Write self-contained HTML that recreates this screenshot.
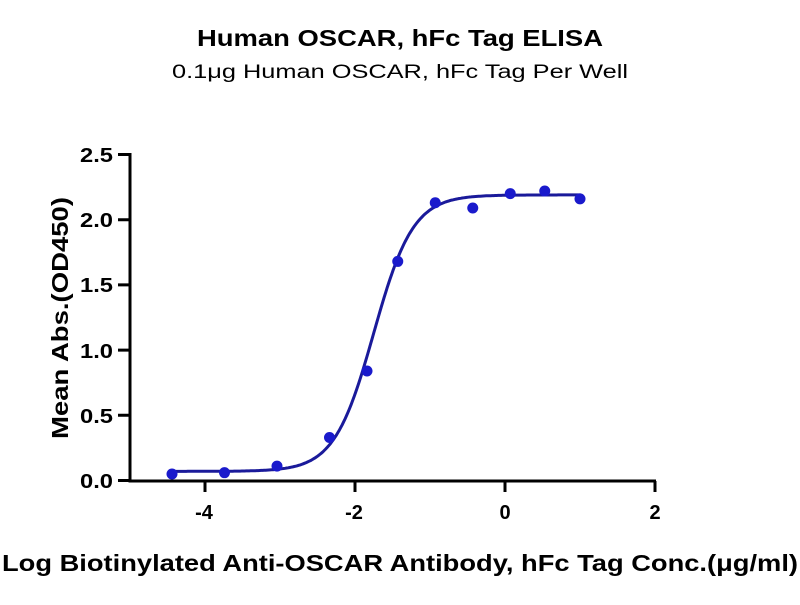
<!DOCTYPE html>
<html><head><meta charset="utf-8"><style>
body{margin:0;background:#fff}
svg text{font-family:"Liberation Sans",Arial,sans-serif}
</style></head><body>
<svg id="s" width="800" height="600" xmlns="http://www.w3.org/2000/svg">
<text x="400" y="46" text-anchor="middle" font-size="23" font-weight="bold" textLength="406" lengthAdjust="spacingAndGlyphs">Human OSCAR, hFc Tag ELISA</text>
<text x="400" y="78" text-anchor="middle" font-size="19" textLength="456" lengthAdjust="spacingAndGlyphs">0.1μg Human OSCAR, hFc Tag Per Well</text>
<g stroke="#000" stroke-width="3" fill="none">
<path d="M130 153V481H656"/>
<path d="M118 154.5H130M118 219.7H130M118 284.9H130M118 350.1H130M118 415.3H130M118 480.5H130"/>
<path d="M205 481V492M355 481V492M505 481V492M655 481V492"/>
</g>
<g font-size="20" font-weight="bold" text-anchor="end">
<text x="113" y="162" textLength="33" lengthAdjust="spacingAndGlyphs">2.5</text><text x="113" y="227" textLength="33" lengthAdjust="spacingAndGlyphs">2.0</text><text x="113" y="292" textLength="33" lengthAdjust="spacingAndGlyphs">1.5</text>
<text x="113" y="358" textLength="33" lengthAdjust="spacingAndGlyphs">1.0</text><text x="113" y="423" textLength="33" lengthAdjust="spacingAndGlyphs">0.5</text><text x="113" y="488" textLength="33" lengthAdjust="spacingAndGlyphs">0.0</text>
</g>
<g font-size="20" font-weight="bold" text-anchor="middle">
<text x="204" y="519">-4</text><text x="354" y="519">-2</text><text x="505" y="519">0</text><text x="655" y="519">2</text>
</g>
<text transform="translate(68,318) rotate(-90)" text-anchor="middle" font-size="23" font-weight="bold" textLength="242" lengthAdjust="spacingAndGlyphs">Mean Abs.(OD450)</text>
<text x="400" y="571" text-anchor="middle" font-size="23" font-weight="bold" textLength="796" lengthAdjust="spacingAndGlyphs">Log Biotinylated Anti-OSCAR Antibody, hFc Tag Conc.(μg/ml)</text>
<path id="c" fill="none" stroke="#1a1a9a" stroke-width="3"/>
<g id="p" fill="#1a1acc"></g>
</svg>
<script>
var X=function(v){return 505+75*v},Y=function(v){return 480.5-130.4*v};
var d="";for(var v=-4.45;v<=1.02;v+=0.02){var y=0.07+2.12/(1+Math.pow(10,(-1.75-v)*1.65));d+=(d?"L":"M")+X(v).toFixed(1)+" "+Y(y).toFixed(1);}
document.getElementById("c").setAttribute("d",d);
var pts=[[-4.44,0.05],[-3.74,0.06],[-3.04,0.11],[-2.34,0.33],[-1.84,0.84],[-1.43,1.68],[-0.93,2.13],[-0.43,2.09],[0.07,2.2],[0.53,2.22],[1.0,2.16]];
var g=document.getElementById("p"),h="";pts.forEach(function(p){h+='<circle cx="'+X(p[0])+'" cy="'+Y(p[1])+'" r="5.5"/>';});g.innerHTML=h;
</script>
</body></html>
